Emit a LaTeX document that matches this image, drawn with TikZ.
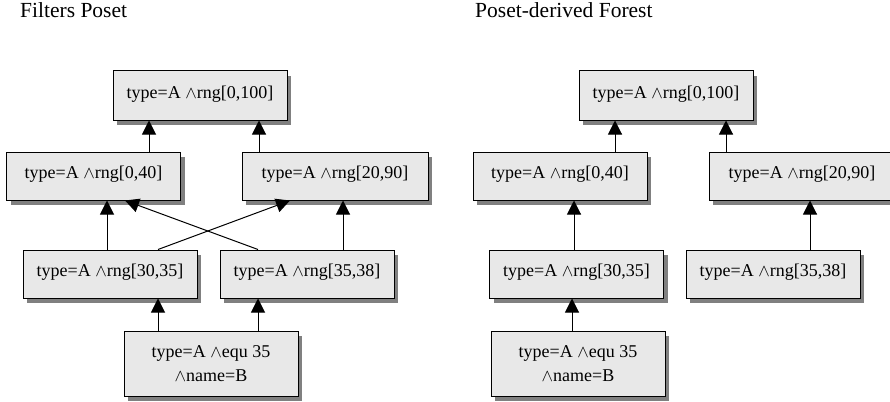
\documentclass[tikz,border=0pt]{standalone}
\usepackage{fontspec}
\setmainfont{Liberation Serif}
\usetikzlibrary{arrows.meta,shadows}
\definecolor{boxfill}{RGB}{232,232,232}
\definecolor{boxshade}{RGB}{128,128,128}
\newcommand{\andop}{$\wedge$}
\tikzset{
  filt/.style={draw=black, line width=1pt, fill=boxfill, inner sep=0pt,
    minimum width=174pt, minimum height=48pt,
    font=\fontsize{18}{24}\selectfont, align=center,
    drop shadow={shadow xshift=4pt, shadow yshift=-5pt, fill=boxshade, opacity=1}},
  oneline/.style={text height=0.85em, text depth=0.3em},
  arr/.style={line width=1pt, -{Triangle[length=14pt,width=14pt]}},
  ttl/.style={anchor=base west, inner sep=0pt, font=\fontsize{21.5}{24}\selectfont}
}
\begin{document}
\begin{tikzpicture}[x=1pt,y=-1pt]
\useasboundingbox (0,0) rectangle (890,401);
\clip (0,0) rectangle (890,401);

% panel titles
\node[ttl] (t1) at (20,17.3) {Filters Poset};
\node[ttl] (t2) at (475,17.3) {Poset-derived Forest};

% ---- filters poset ----
\node[filt,oneline,minimum height=49pt] (A1) at (200,95.5) {type=A \andop rng[0,100]};
\node[filt,oneline] (B1) at (93.5,176) {type=A \andop rng[0,40]};
\node[filt,oneline,minimum width=186pt] (C1) at (335,176) {type=A \andop rng[20,90]};
\node[filt,oneline] (D1) at (110,274) {type=A \andop rng[30,35]};
\node[filt,oneline] (E1) at (307,274) {type=A \andop rng[35,38]};
\node[filt,minimum height=65pt] (F1) at (211,363.5) {type=A \andop equ 35\\\andop name=B};

\draw[arr] (B1.north -| 149,0) -- (A1.south -| 149,0);
\draw[arr] (C1.north -| 259,0) -- (A1.south -| 259,0);
\draw[arr] (D1.north -| 107,0) -- (B1.south -| 107,0);
\draw[arr] (E1.north -| 343,0) -- (C1.south -| 343,0);
\draw[arr] (D1.north -| 158,0) -- (C1.south -| 290,0);
\draw[arr] (E1.north -| 258,0) -- (B1.south -| 125,0);
\draw[arr] (F1.north -| 158,0) -- (D1.south -| 158,0);
\draw[arr] (F1.north -| 258,0) -- (E1.south -| 258,0);

% ---- poset-derived forest ----
\node[filt,oneline,minimum height=49pt] (A2) at (666,95.5) {type=A \andop rng[0,100]};
\node[filt,oneline] (B2) at (560,176) {type=A \andop rng[0,40]};
\node[filt,oneline,minimum width=186pt] (C2) at (802,176) {type=A \andop rng[20,90]};
\node[filt,oneline] (D2) at (576.5,274) {type=A \andop rng[30,35]};
\node[filt,oneline] (E2) at (773,274) {type=A \andop rng[35,38]};
\node[filt,minimum height=65pt] (F2) at (578,363.5) {type=A \andop equ 35\\\andop name=B};

\draw[arr] (B2.north -| 615,0) -- (A2.south -| 615,0);
\draw[arr] (C2.north -| 726,0) -- (A2.south -| 726,0);
\draw[arr] (D2.north -| 574,0) -- (B2.south -| 574,0);
\draw[arr] (E2.north -| 810,0) -- (C2.south -| 810,0);
\draw[arr] (F2.north -| 572,0) -- (D2.south -| 572,0);
\end{tikzpicture}
\end{document}
